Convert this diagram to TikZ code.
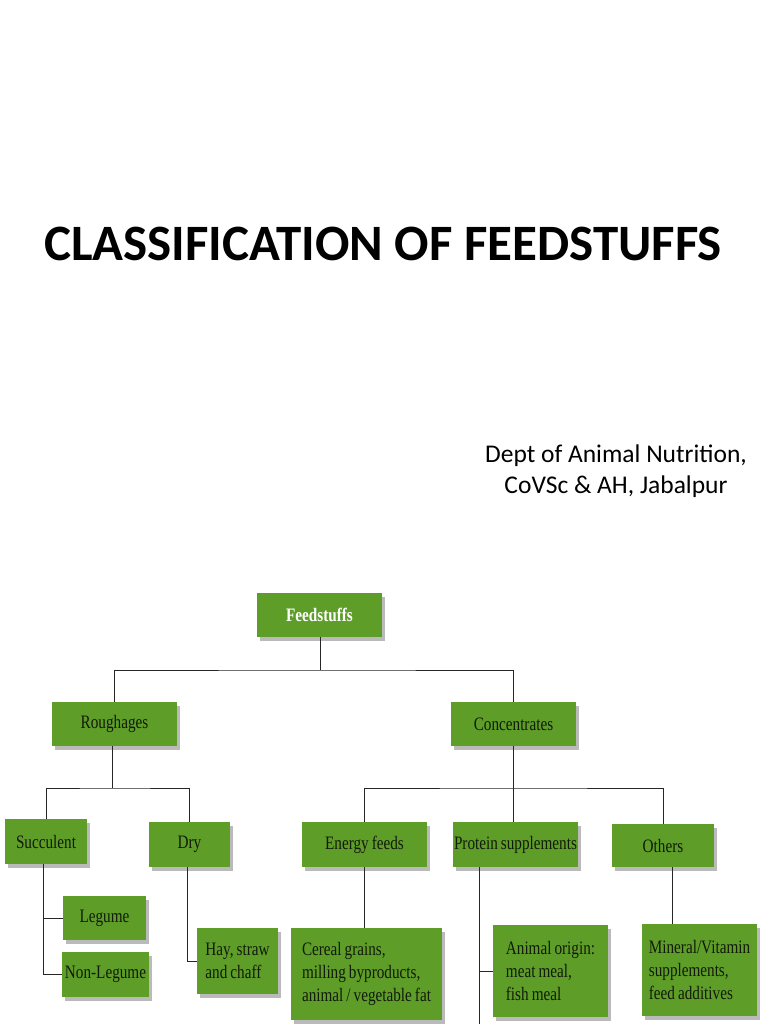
\documentclass[tikz,border=0pt]{standalone}
\usepackage{fontspec}
\setmainfont{Carlito}
\newfontfamily\boxfont[FakeStretch=0.8,WordSpace=0.8]{Liberation Serif}
\usetikzlibrary{shadows}
\definecolor{boxgreen}{RGB}{94,158,40}
\definecolor{boxtext}{RGB}{18,26,10}
\tikzset{
  gbox/.style={draw=none, fill=boxgreen, rectangle, inner sep=0pt,
    text=boxtext, font=\boxfont\fontsize{19}{23}\selectfont,
    drop shadow={shadow xshift=3pt, shadow yshift=-4pt, opacity=0.45, fill=black!60}},
  conn/.style={draw=black!85, line width=1pt},
}
\begin{document}
\begin{tikzpicture}[x=1pt,y=-1pt]
\useasboundingbox[fill=white] (0,0) rectangle (768,1024);

\node[font=\bfseries\fontsize{51}{55}\selectfont, anchor=base] (title) at (383,260) {CLASSIFICATION OF FEEDSTUFFS};
\node[font=\fontsize{25.5}{31}\selectfont, align=center, anchor=base] (dept) at (616,493) {Dept of Animal Nutrition,\\CoVSc \& AH, Jabalpur};

% boxes
\node[gbox, minimum width=125pt, minimum height=44pt, text=white, font=\boxfont\bfseries\fontsize{19}{23}\selectfont] (feed) at (319.5,615) {Feedstuffs};
\node[gbox, minimum width=125pt, minimum height=44pt] (rough) at (114.5,724) {Roughages};
\node[gbox, minimum width=125pt, minimum height=44pt] (conc) at (513.5,724) {Concentrates};

\node[gbox, minimum width=82pt, minimum height=45pt] (succ) at (46,841.5) {Succulent};
\node[gbox, minimum width=81pt, minimum height=45pt] (dry) at (189.5,844.5) {Dry};
\node[gbox, minimum width=125pt, minimum height=45pt] (energy) at (364.5,844.5) {Energy feeds};
\node[gbox, minimum width=125pt, minimum height=45pt] (prot) at (515.5,844.5) {Protein supplements};
\node[gbox, minimum width=102pt, minimum height=43pt] (others) at (663,845.5) {Others};

\node[gbox, minimum width=83pt, minimum height=44pt] (leg) at (104.5,918) {Legume};
\node[gbox, minimum width=87pt, minimum height=45pt] (nonleg) at (105.5,974.5) {Non-Legume};
\node[gbox, minimum width=81pt, minimum height=66pt, align=left] (hay) at (237.5,961) {Hay, straw\\and chaff};
\node[gbox, minimum width=151pt, minimum height=92pt, align=left] (cereal) at (366.5,974) {Cereal grains,\\milling byproducts,\\animal / vegetable fat};
\node[gbox, minimum width=115pt, minimum height=92pt, align=left] (animal) at (550.5,971) {Animal origin:\\meat meal,\\fish meal};
\node[gbox, minimum width=115pt, minimum height=92pt, align=left] (mineral) at (699.5,970) {Mineral/Vitamin\\supplements,\\feed additives};

% junctions
\coordinate (b1) at (320,670);
\coordinate (b2) at (513,788);
\coordinate (b3) at (112,788);
\coordinate (pbot) at (479,1024);
\coordinate (sbot) at (43,974);

% connectors
\draw[conn] (feed.south -| b1) -- (b1);
\draw[conn] (rough.north) |- (b1) -| (conc.north);
\draw[conn] (rough.south -| b3) -- (b3);
\draw[conn] (succ.north) |- (b3) -| (dry.north);
\draw[conn] (conc.south -| b2) -- (b2);
\draw[conn] (energy.north) |- (b2) -| (others.north);
\draw[conn] (b2) -- (prot.north -| b2);

\draw[conn] (succ.south -| sbot) -- (sbot) -- (nonleg.west |- sbot);
\draw[conn] (leg.west) -- (leg.west -| sbot);
\draw[conn] (dry.south -| 187,0) |- (hay.west);
\draw[conn] (energy.south) -- (cereal.north -| energy.south);
\draw[conn] (prot.south -| pbot) -- (pbot);
\draw[conn] (animal.west) -- (animal.west -| pbot);
\draw[conn] (others.south -| 672,0) -- (mineral.north -| 672,0);
\end{tikzpicture}
\end{document}
